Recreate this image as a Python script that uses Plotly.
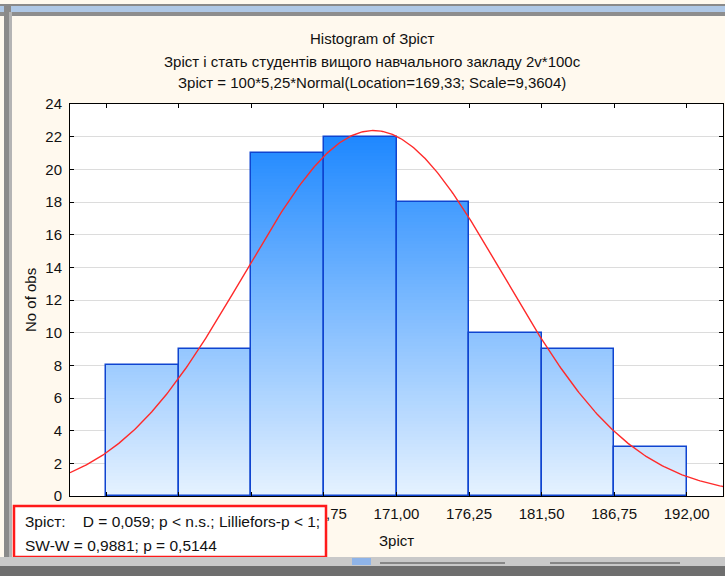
import numpy as np
import plotly.graph_objects as go

# ---- data ----
bin_edges = [150.00, 155.25, 160.50, 165.75, 171.00, 176.25, 181.50, 186.75, 192.00]
counts = [8, 9, 21, 22, 18, 10, 9, 3]
tick_text = ["150,00", "155,25", "160,50", "165,75", "171,00", "176,25", "181,50", "186,75", "192,00"]
y_ticks = list(range(0, 25, 2))

# fitted normal, as stated in the subtitle
N_OBS = 100
BIN_WIDTH = 5.25
LOCATION = 169.33
SCALE = 9.3604

W, H = 725, 576
L, R, T, B = 70, 723, 104, 496          # plot area in pixels
FONT = "Liberation Sans, Arial, sans-serif"
PAPER_BG = "#FFF9EE"

x_range = [bin_edges[0] - BIN_WIDTH / 2, bin_edges[-1] + BIN_WIDTH / 2]
centers = [(a + b) / 2 for a, b in zip(bin_edges[:-1], bin_edges[1:])]

fig = go.Figure()

# ---- bars with a vertical gradient (colour depends on height) ----
c_low = np.array([230, 242, 255])
c_high = np.array([30, 136, 255])
step = 0.2
seg_x, seg_base, seg_h, seg_col = [], [], [], []
for xc, n in zip(centers, counts):
    k = 0
    while k * step < n:
        lo = k * step
        hi = min(n, lo + step * 1.6)
        f = min(1.0, (lo + step / 2) / 22.0)
        c = (c_low + (c_high - c_low) * f).round().astype(int)
        seg_x.append(xc)
        seg_base.append(lo)
        seg_h.append(hi - lo)
        seg_col.append(f"rgb({c[0]},{c[1]},{c[2]})")
        k += 1

fig.add_trace(go.Bar(
    x=seg_x, y=seg_h, base=seg_base, width=BIN_WIDTH,
    marker=dict(color=seg_col, line=dict(width=0)),
    hoverinfo="skip", showlegend=False,
))

# bar outlines
fig.add_trace(go.Bar(
    x=centers, y=counts, width=BIN_WIDTH,
    marker=dict(color="rgba(0,0,0,0)", line=dict(color="#0F44D0", width=1.5)),
    showlegend=False,
))

# normal curve
xs = np.linspace(x_range[0], x_range[1], 400)
pdf = np.exp(-0.5 * ((xs - LOCATION) / SCALE) ** 2) / (SCALE * np.sqrt(2 * np.pi))
fig.add_trace(go.Scatter(
    x=xs, y=N_OBS * BIN_WIDTH * pdf, mode="lines",
    line=dict(color="#FF2A2A", width=1.4), showlegend=False,
))

# figure pixels -> paper coordinates (paper spans the plot area)
def px(x):
    return (x - L) / (R - L)

def py(y):
    return (B - y) / (B - T)

annotations = []
shapes = []

# titles
titles = [
    ("Histogram of Зріст", 38),
    ("Зріст і стать студентів вищого навчального закладу 2v*100c", 61),
    ("Зріст = 100*5,25*Normal(Location=169,33; Scale=9,3604)", 83),
]
for txt, yy in titles:
    annotations.append(dict(text=txt, x=px(372), y=py(yy), xref="paper", yref="paper",
                            xanchor="center", yanchor="middle", showarrow=False,
                            font=dict(family=FONT, size=15, color="#111111")))

# axis titles
annotations.append(dict(text="Зріст", x=px(396), y=py(540), xref="paper", yref="paper",
                        xanchor="center", yanchor="middle", showarrow=False,
                        font=dict(family=FONT, size=15, color="#111111")))
annotations.append(dict(text="No of obs", x=px(30), y=py(300), xref="paper", yref="paper",
                        xanchor="center", yanchor="middle", showarrow=False, textangle=-90,
                        font=dict(family=FONT, size=15, color="#111111")))

# statistics box
shapes.append(dict(type="rect", xref="paper", yref="paper", layer="above",
                   x0=px(14), x1=px(326), y0=py(557), y1=py(506),
                   fillcolor="white", line=dict(color="#FF1A1A", width=2.5)))
nb = "\u00a0"
stat_lines = [
    (f"Зріст:{nb*4}D = 0,059; p &lt; n.s.; Lilliefors-p &lt; 1;", 521),
    ("SW-W = 0,9881; p = 0,5144", 545),
]
for txt, yy in stat_lines:
    annotations.append(dict(text=txt, x=px(23), y=py(yy), xref="paper", yref="paper",
                            xanchor="left", yanchor="middle", showarrow=False,
                            font=dict(family=FONT, size=15.5, color="#111111")))

# window frame
frame = [
    (0, 4, 725, 6, "#8A8A8A"),
    (0, 6, 725, 12, "#AFC8E6"),
    (0, 12, 725, 16, "#8E8E8E"),
    (4, 4, 11, 576, "#8A8A8A"),
    (9, 12, 12, 576, "#B4B4B4"),
    (0, 557, 725, 566, "#C9C9C9"),
    (0, 566, 725, 576, "#6E6E6E"),
]
for x0, y0, x1, y1, col in frame:
    shapes.append(dict(type="rect", xref="paper", yref="paper", layer="above",
                       x0=px(x0), x1=px(x1), y0=py(y1), y1=py(y0),
                       fillcolor=col, line=dict(width=0)))
# slider details in the bottom bar
for x0, x1 in [(380, 505), (550, 680)]:
    shapes.append(dict(type="line", xref="paper", yref="paper", layer="above",
                       x0=px(x0), x1=px(x1), y0=py(563), y1=py(563),
                       line=dict(color="#444444", width=1)))
shapes.append(dict(type="rect", xref="paper", yref="paper", layer="above",
                   x0=px(352), x1=px(371), y0=py(565), y1=py(558),
                   fillcolor="#8FB4E8", line=dict(width=0)))

fig.update_layout(
    width=W, height=H,
    margin=dict(l=L, r=W - R, t=T, b=H - B, pad=0),
    paper_bgcolor=PAPER_BG, plot_bgcolor="white",
    barmode="overlay", bargap=0,
    font=dict(family=FONT, size=15, color="#111111"),
    xaxis=dict(range=x_range, tickvals=bin_edges, ticktext=tick_text,
               showgrid=False, zeroline=False, showline=True, linecolor="black",
               linewidth=1, mirror="ticks", ticks="inside", ticklen=4,
               tickcolor="black", tickfont=dict(size=15), ticklabelstandoff=4),
    yaxis=dict(range=[0, 24], tickvals=y_ticks, showgrid=True, gridcolor="#DCDCDC",
               gridwidth=1, zeroline=False, showline=True, linecolor="black",
               linewidth=1, mirror="ticks", ticks="inside", ticklen=4,
               tickcolor="black", tickfont=dict(size=15), ticklabelstandoff=4),
    annotations=annotations, shapes=shapes,
)

fig.write_html("out.html")
